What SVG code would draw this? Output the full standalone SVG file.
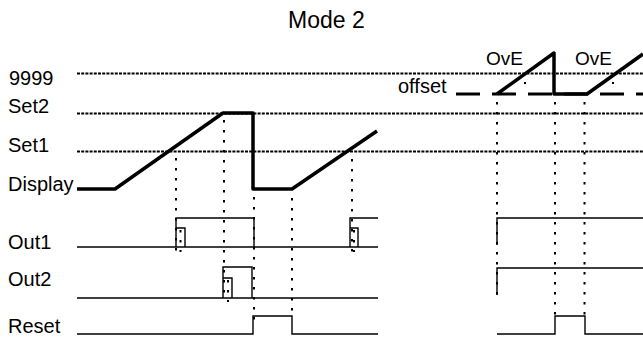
<svg xmlns="http://www.w3.org/2000/svg" width="643" height="338" viewBox="0 0 643 338">
<style>
text{font-family:"Liberation Sans",Arial,sans-serif;font-size:20px;fill:#000}
.hd{stroke:#000;stroke-width:2;stroke-dasharray:3 1.2;fill:none}
.vd{stroke:#000;stroke-width:2;stroke-dasharray:2.5 7.5;fill:none}
.sig{stroke:#000;stroke-width:1.4;fill:none}
.disp{stroke:#000;stroke-width:3.5;fill:none;stroke-linejoin:round}
.off{stroke:#000;stroke-width:3;stroke-dasharray:24 12;fill:none}
</style>
<rect width="643" height="338" fill="#fff"/>
<g id="title"><text x="288" y="28" style="font-size:23px">Mode 2</text></g>
<g id="labels">
<text x="9" y="85">9999</text>
<text x="8" y="113">Set2</text>
<text x="8" y="152">Set1</text>
<text x="8" y="191">Display</text>
<text x="8" y="249">Out1</text>
<text x="8" y="286">Out2</text>
<text x="8" y="333">Reset</text>
<text x="398" y="93">offset</text>
<text x="486" y="65" style="font-size:19px">OvE</text>
<text x="575" y="65" style="font-size:19px">OvE</text>
</g>
<g id="levels">
<line class="hd" x1="77" y1="73.5" x2="643" y2="73.5"/>
<line class="hd" x1="77" y1="113.5" x2="643" y2="113.5"/>
<line class="hd" x1="77" y1="151.5" x2="643" y2="151.5"/>
<line class="off" x1="456" y1="94" x2="643" y2="94"/>
</g>
<g id="connectors">
<line class="vd" x1="176" y1="158" x2="176" y2="252"/>
<line class="vd" x1="224" y1="120" x2="224" y2="300"/>
<line class="vd" x1="254" y1="197" x2="254" y2="320"/>
<line class="vd" x1="292" y1="198" x2="292" y2="312"/>
<line class="vd" x1="352" y1="159" x2="352" y2="252"/>
<line class="vd" x1="180.5" y1="230" x2="180.5" y2="252"/>
<line class="vd" x1="354" y1="230" x2="354" y2="252"/>
<line class="vd" x1="228" y1="280" x2="228" y2="302"/>
<line class="vd" x1="497" y1="102" x2="497" y2="296"/>
<line class="vd" x1="555" y1="102" x2="555" y2="315"/>
<line class="vd" x1="584.5" y1="102" x2="584.5" y2="315"/>
<rect x="524" y="82" width="2" height="2"/>
<rect x="612" y="82" width="2" height="2"/>
</g>
<g id="display">
<polyline class="disp" points="77,189 115,189 223,113 253,113 253,189 292,189 377,131"/>
<polyline class="disp" points="497,94 554,53 554,94 587,94 643,54"/>
</g>
<g id="out1">
<line class="sig" x1="77" y1="247" x2="378" y2="247"/>
<polyline class="sig" points="176,247 176,218 254,218 254,247"/>
<polyline class="sig" points="176,228 185,228 185,247"/>
<polyline class="sig" points="350,247 350,218 378,218"/>
<polyline class="sig" points="350,228 358,228 358,247"/>
<polyline class="sig" points="497,245 497,218 643,218"/>
</g>
<g id="out2">
<line class="sig" x1="77" y1="298" x2="378" y2="298"/>
<polyline class="sig" points="223,298 223,267 252,267 252,298"/>
<polyline class="sig" points="223,278 232,278 232,298"/>
<polyline class="sig" points="497,295 497,268 643,268"/>
</g>
<g id="reset">
<polyline class="sig" points="77,334 253,334 253,316 292,316 292,334 378,334"/>
<polyline class="sig" points="497,334 555,334 555,316 585,316 585,334 643,334"/>
</g>
</svg>
